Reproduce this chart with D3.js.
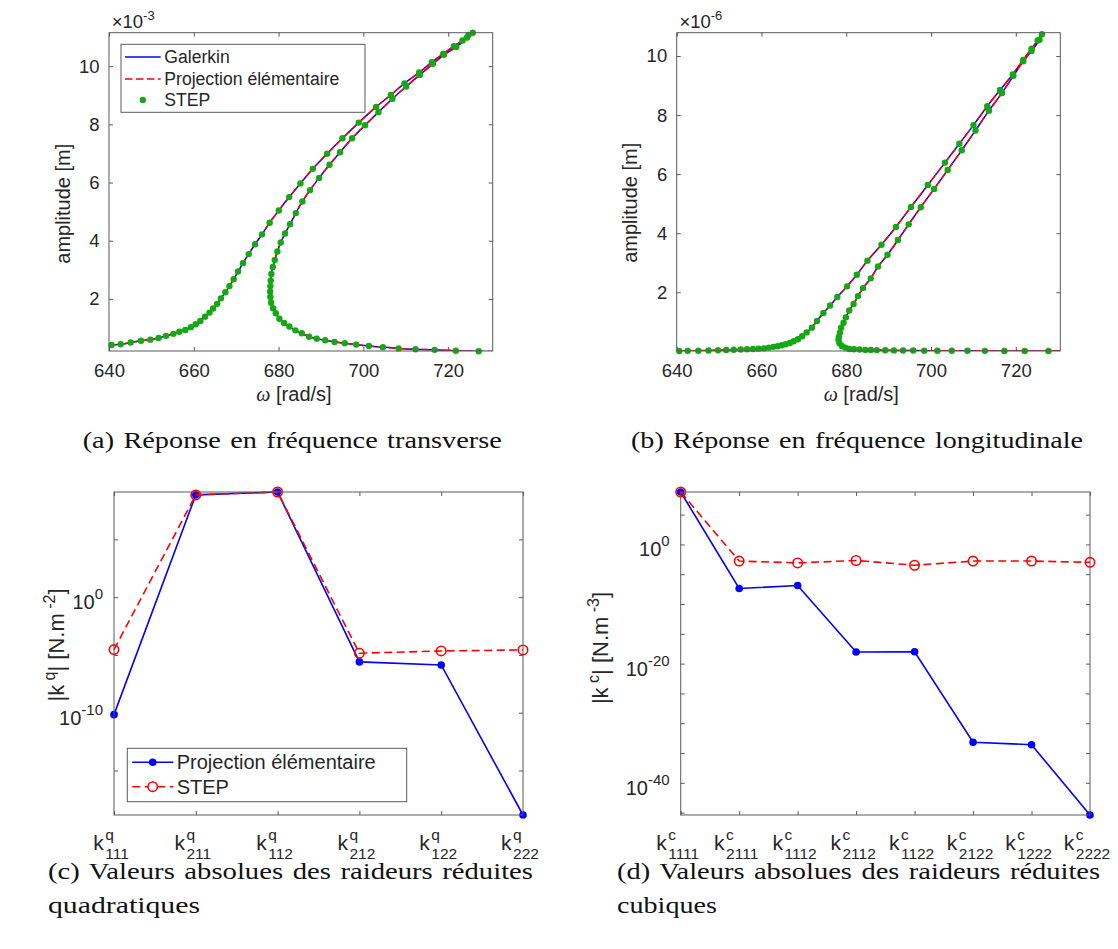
<!DOCTYPE html>
<html><head><meta charset="utf-8">
<script src="https://cdn.jsdelivr.net/npm/d3@7"></script>
<style>
body{margin:0;background:#fff}
svg text{font-family:"Liberation Sans",Arial,Helvetica,sans-serif;fill:#262626}
</style>
</head><body>
<svg id="fig" width="1118" height="949"></svg>
<script>
// ================= DATA =================
const freqDomain = [640, 730.5];
const freqTicks = [640, 660, 680, 700, 720];
const ampTicks = [2, 4, 6, 8, 10];

// (a) transverse response, amplitude in 1e-3 m (STEP points along the branch)
const stepA_omega = [640.6,642.75,645.1,647.55,649.75,651.7,653.45,655.2,656.6,658.0,659.3,660.45,661.55,662.65,663.7,664.55,665.5,666.4,667.45,668.4,669.4,670.45,671.6,672.95,674.45,676.1,677.9,680.05,682.5,685.15,688.07,691.45,695.06,698.92,703.0,706.47,709.69,713.16,716.15,718.82,721.34,723.38,724.8,725.8,
  724.4,721.9,719.0,716.4,713.3,710.1,706.85,703.55,700.4,697.35,694.5,692.0,689.56,687.43,685.62,684.06,682.71,681.53,680.51,679.72,679.1,678.63,678.3,678.15,678.07,678.0,678.07,678.23,678.7,679.34,680.19,681.3,682.55,683.97,685.47,687.2,689.0,691.0,693.2,695.6,698.3,701.3,704.6,708.3,712.3,716.8,721.8,727.2];
const stepA_amp = [0.42,0.44,0.50,0.56,0.60,0.66,0.73,0.80,0.87,0.93,1.03,1.13,1.24,1.39,1.53,1.67,1.83,2.02,2.23,2.44,2.68,2.94,3.23,3.54,3.88,4.22,4.62,5.04,5.50,5.97,6.47,6.99,7.52,8.06,8.60,9.01,9.41,9.78,10.14,10.42,10.69,10.88,11.07,11.15,
  10.98,10.66,10.39,10.08,9.70,9.30,8.88,8.42,7.97,7.52,7.04,6.61,6.16,5.74,5.35,4.95,4.57,4.25,3.94,3.63,3.34,3.10,2.86,2.63,2.44,2.25,2.07,1.87,1.68,1.51,1.32,1.17,1.05,0.92,0.82,0.70,0.635,0.58,0.52,0.48,0.43,0.38,0.34,0.30,0.27,0.25,0.22,0.20];
// Galerkin / Projection curves (same branch, extended to the axis limits)
const galerkinA_omega = [640, ...stepA_omega, 730.5];
const galerkinA_amp = [0.41, ...stepA_amp, 0.19];
const projA_omega = galerkinA_omega;
const projA_amp = galerkinA_amp;

// (b) longitudinal response, amplitude in 1e-6 m
const stepB_omega = [640.6,642.6,645.1,647.5,649.75,651.7,653.45,655.1,656.6,658.0,659.3,660.6,661.7,662.8,663.8,664.8,665.7,666.7,667.6,668.6,669.6,670.65,671.9,673.1,674.6,676.2,677.9,680.2,682.5,685.0,688.31,691.72,695.28,699.25,703.29,706.69,710.02,713.27,716.29,719.28,721.75,723.72,725.15,726.17,
  725.6,723.7,721.75,719.44,716.76,713.67,710.49,707.25,703.93,700.74,697.58,694.73,692.19,689.74,687.5,685.78,683.96,682.77,681.73,680.7,679.92,679.36,678.8,678.5,678.26,678.17,678.4,678.97,679.76,680.7,681.8,683.16,684.5,685.8,687.2,689.2,691.25,693.4,695.8,698.4,701.5,704.9,708.6,712.7,717.3,722.1,727.7];
const stepB_amp = [0.013,0.015,0.02,0.025,0.035,0.045,0.05,0.06,0.07,0.08,0.09,0.10,0.125,0.15,0.17,0.205,0.24,0.28,0.34,0.41,0.51,0.64,0.80,1.03,1.30,1.55,1.84,2.20,2.59,3.07,3.61,4.21,4.89,5.63,6.39,7.03,7.66,8.30,8.85,9.38,9.87,10.25,10.53,10.74,
  10.55,10.17,9.82,9.33,8.75,8.15,7.48,6.81,6.14,5.50,4.88,4.30,3.77,3.27,2.87,2.47,2.14,1.87,1.60,1.38,1.15,0.97,0.80,0.63,0.49,0.39,0.27,0.18,0.125,0.08,0.07,0.06,0.047,0.045,0.04,0.035,0.03,0.028,0.025,0.022,0.02,0.018,0.016,0.015,0.014,0.013,0.012];
const galerkinB_omega = [640, ...stepB_omega, 730.5];
const galerkinB_amp = [0.012, ...stepB_amp, 0.011];
const projB_omega = galerkinB_omega;
const projB_amp = galerkinB_amp;

// (c) quadratic reduced stiffnesses |k^q| [N.m^-2]
const catsQ = [["q","111"],["q","211"],["q","112"],["q","212"],["q","122"],["q","222"]];
const projQ = [6.8e-11, 7.1e8, 1.26e9, 2.5e-6, 1.35e-6, 1.4e-19];
const stepQ = [2.9e-5, 7.1e8, 1.26e9, 1.4e-5, 2.2e-5, 2.7e-5];
const tickQ = [1e5, 1, 1e-5, 1e-10, 1e-15];
const tickLabelQ = [0, -10];

// (d) cubic reduced stiffnesses |k^c| [N.m^-3]
const catsC = [["c","1111"],["c","2111"],["c","1112"],["c","2112"],["c","1122"],["c","2122"],["c","1222"],["c","2222"]];
const projC = [6.2e8, 4.0e-8, 1.26e-7, 8.9e-19, 1e-18, 6.3e-34, 2.5e-34, 4e-46];
const stepC = [6.2e8, 1.6e-3, 7.9e-4, 2e-3, 3.2e-4, 1.6e-3, 1.6e-3, 1e-3];
const tickC = [1e5,1,1e-5,1e-10,1e-15,1e-20,1e-25,1e-30,1e-35,1e-40,1e-45];
const tickLabelC = [0, -20, -40];

// ================= DRAWING =================
const svg = d3.select("#fig");
const AX = "#5a5a5a", BLUE = "#0000ff", RED = "#ff0000", GREEN = "#14a814";
const TL = 4;

function box(P){
  svg.append("rect").attr("x",P.x0).attr("y",P.y0).attr("width",P.x1-P.x0).attr("height",P.y1-P.y0)
    .attr("fill","none").attr("stroke",AX).attr("stroke-width",1);
}
function styleAxis(sel){
  sel.select(".domain").remove();
  sel.selectAll(".tick line").attr("stroke",AX).attr("stroke-width",1);
}

function freqPanel(P, so, sa, go, ga, po, pa, yDomain, expo, id, ylabX, ylabY, xlabX, legend){
  const x = d3.scaleLinear().domain(freqDomain).range([P.x0,P.x1]);
  const y = d3.scaleLinear().domain(yDomain).range([P.y1,P.y0]);
  svg.append("defs").append("clipPath").attr("id",id).append("rect")
    .attr("x",P.x0).attr("y",P.y0).attr("width",P.x1-P.x0).attr("height",P.y1-P.y0);
  const b = svg.append("g").attr("transform",`translate(0,${P.y1})`)
    .call(d3.axisBottom(x).tickValues(freqTicks).tickSizeInner(-TL).tickSizeOuter(0).tickPadding(12.9));
  styleAxis(b); b.selectAll("text").style("font-size","18.5px").style("fill","#262626");
  const t = svg.append("g").attr("transform",`translate(0,${P.y0})`)
    .call(d3.axisTop(x).tickValues(freqTicks).tickSizeInner(-TL).tickSizeOuter(0).tickFormat(""));
  styleAxis(t);
  const l = svg.append("g").attr("transform",`translate(${P.x0},0)`)
    .call(d3.axisLeft(y).tickValues(ampTicks).tickSizeInner(-TL).tickSizeOuter(0).tickPadding(9.5));
  styleAxis(l); l.selectAll("text").style("font-size","18.5px").style("fill","#262626");
  const r = svg.append("g").attr("transform",`translate(${P.x1},0)`)
    .call(d3.axisRight(y).tickValues(ampTicks).tickSizeInner(-TL).tickSizeOuter(0).tickFormat(""));
  styleAxis(r);

  const line = d3.line().curve(d3.curveCatmullRom.alpha(0.5)).x(d=>x(d[0])).y(d=>y(d[1]));
  const gal = go.map((o,i)=>[o,ga[i]]);
  const prj = po.map((o,i)=>[o,pa[i]]);
  const cg = svg.append("g").attr("clip-path",`url(#${id})`);
  cg.append("path").attr("d",line(gal)).attr("fill","none").attr("stroke",BLUE).attr("stroke-width",1.5);
  cg.append("path").attr("d",line(prj)).attr("fill","none").attr("stroke",RED).attr("stroke-width",1.5)
    .attr("stroke-dasharray","7.5,3.5");
  svg.append("g").selectAll("circle").data(so.map((o,i)=>[o,sa[i]])).join("circle")
    .attr("cx",d=>x(d[0])).attr("cy",d=>y(d[1])).attr("r",3.2).attr("fill",GREEN);
  box(P);

  // exponent
  const ex = svg.append("text").attr("x",P.x0+2.7).attr("y",P.y0-4.4);
  ex.append("tspan").style("font-size","18.5px").text("×10");
  ex.append("tspan").attr("dy",-8.3).style("font-size","13px").text(expo);
  // axis labels
  svg.append("text").attr("transform",`translate(${ylabX},${ylabY}) rotate(-90)`)
    .attr("text-anchor","middle").style("font-size","20px").text("amplitude [m]");
  const xl = svg.append("text").attr("x",xlabX).attr("y",401).attr("text-anchor","middle").style("font-size","20px");
  xl.append("tspan").style("font-family","'Liberation Serif',serif").style("font-style","italic").text("ω");
  xl.append("tspan").text(" [rad/s]");

  if(legend){
    const L = {x:121, y:44.3, w:244, h:68};
    svg.append("rect").attr("x",L.x).attr("y",L.y).attr("width",L.w).attr("height",L.h)
      .attr("fill","#fff").attr("stroke",AX).attr("stroke-width",1);
    const rows = [57, 79, 100];
    svg.append("line").attr("x1",125).attr("x2",160.7).attr("y1",rows[0]).attr("y2",rows[0]).attr("stroke",BLUE).attr("stroke-width",1.5);
    svg.append("line").attr("x1",125).attr("x2",160.7).attr("y1",rows[1]).attr("y2",rows[1]).attr("stroke",RED).attr("stroke-width",1.5).attr("stroke-dasharray","7.5,3.5");
    svg.append("circle").attr("cx",142.8).attr("cy",rows[2]).attr("r",3.2).attr("fill",GREEN);
    ["Galerkin","Projection élémentaire","STEP"].forEach((s,i)=>{
      svg.append("text").attr("x",164.3).attr("y",rows[i]).attr("dy","0.35em").style("font-size","17.6px").text(s);
    });
  }
}

function kLabel(cx, baseY, sup, sub){
  const grp = svg.append("g");
  const k = grp.append("text").attr("x",0).attr("y",0).style("font-size","21px").text("k");
  const w = k.node().getComputedTextLength();
  const a = grp.append("text").attr("x",w+1.5).attr("y",-10.5).style("font-size","15.5px").text(sup);
  const s = grp.append("text").attr("x",w+1.5).attr("y",8.6).style("font-size","15.5px").text(sub);
  const tw = w+1.5+Math.max(a.node().getComputedTextLength(), s.node().getComputedTextLength());
  grp.attr("transform",`translate(${cx-tw/2-3},${baseY})`);
}

function stiffPanel(P, cats, proj, step, ticks, labelExps, supChar, expChar, ylabX, ylabY, legend){
  const keys = cats.map(c=>c[0]+c[1]);
  const x = d3.scalePoint().domain(keys).range([P.x0,P.x1]).padding(0);
  const all = proj.concat(step);
  const y = d3.scaleLog().domain(d3.extent(all)).range([P.y1,P.y0]);
  const b = svg.append("g").attr("transform",`translate(0,${P.y1})`)
    .call(d3.axisBottom(x).tickSizeInner(-TL).tickSizeOuter(0).tickFormat(""));
  styleAxis(b);
  const t = svg.append("g").attr("transform",`translate(0,${P.y0})`)
    .call(d3.axisTop(x).tickSizeInner(-TL).tickSizeOuter(0).tickFormat(""));
  styleAxis(t);
  const l = svg.append("g").attr("transform",`translate(${P.x0},0)`)
    .call(d3.axisLeft(y).tickValues(ticks).tickSizeInner(-TL).tickSizeOuter(0).tickFormat(""));
  styleAxis(l);
  const r = svg.append("g").attr("transform",`translate(${P.x1},0)`)
    .call(d3.axisRight(y).tickValues(ticks).tickSizeInner(-TL).tickSizeOuter(0).tickFormat(""));
  styleAxis(r);
  // y tick labels 10^e
  labelExps.forEach(e=>{
    const yy = y(Math.pow(10,e));
    const tx = svg.append("text").attr("x",P.x0-11).attr("y",yy+12).attr("text-anchor","end");
    tx.append("tspan").style("font-size","20px").text("10");
    tx.append("tspan").attr("dy",-10).style("font-size","15px").text(String(e));
  });
  // x tick labels
  cats.forEach((c,i)=>kLabel(x(keys[i]), P.y1+35, c[0], c[1]));

  const line = d3.line().x((d,i)=>x(keys[i])).y(d=>y(d));
  svg.append("path").attr("d",line(proj)).attr("fill","none").attr("stroke",BLUE).attr("stroke-width",1.6);
  svg.append("g").selectAll("circle").data(proj).join("circle")
    .attr("cx",(d,i)=>x(keys[i])).attr("cy",d=>y(d)).attr("r",3.8).attr("fill",BLUE);
  svg.append("path").attr("d",line(step)).attr("fill","none").attr("stroke",RED).attr("stroke-width",1.6)
    .attr("stroke-dasharray","8,4.5");
  svg.append("g").selectAll("circle").data(step).join("circle")
    .attr("cx",(d,i)=>x(keys[i])).attr("cy",d=>y(d)).attr("r",4.7).attr("fill","none")
    .attr("stroke",RED).attr("stroke-width",1.6);
  box(P);

  // y label
  const yl = svg.append("text").attr("transform",`translate(${ylabX},${ylabY}) rotate(-90)`)
    .attr("text-anchor","middle").style("font-size","22px");
  yl.append("tspan").text("|k");
  yl.append("tspan").attr("dy",-9).style("font-size","16px").text(" "+supChar);
  yl.append("tspan").attr("dy",9).text("| [N.m");
  yl.append("tspan").attr("dy",-9).style("font-size","16px").text(" "+expChar);
  yl.append("tspan").attr("dy",9).text("]");

  if(legend){
    svg.append("rect").attr("x",127.3).attr("y",748.3).attr("width",279.4).attr("height",53.4)
      .attr("fill","#fff").attr("stroke",AX).attr("stroke-width",1);
    const r1 = 762.3, r2 = 786.7;
    svg.append("line").attr("x1",132.3).attr("x2",173.3).attr("y1",r1).attr("y2",r1).attr("stroke",BLUE).attr("stroke-width",1.6);
    svg.append("circle").attr("cx",152.7).attr("cy",r1).attr("r",3.8).attr("fill",BLUE);
    svg.append("line").attr("x1",132.3).attr("x2",173.3).attr("y1",r2).attr("y2",r2).attr("stroke",RED).attr("stroke-width",1.6).attr("stroke-dasharray","8,4.5");
    svg.append("circle").attr("cx",152.7).attr("cy",r2).attr("r",4.7).attr("fill","#fff").attr("stroke",RED).attr("stroke-width",1.6);
    svg.append("text").attr("x",176.7).attr("y",r1).attr("dy","0.35em").style("font-size","20px").text("Projection élémentaire");
    svg.append("text").attr("x",176.7).attr("y",r2).attr("dy","0.35em").style("font-size","20px").text("STEP");
  }
}

freqPanel({x0:109,x1:492.7,y0:32.7,y1:351}, stepA_omega, stepA_amp, galerkinA_omega, galerkinA_amp, projA_omega, projA_amp,
  [0.21,11.15], "-3", "clipA", 70, 203.7, 294, true);
freqPanel({x0:676.7,x1:1060.3,y0:32.7,y1:351}, stepB_omega, stepB_amp, galerkinB_omega, galerkinB_amp, projB_omega, projB_amp,
  [0.01,10.79], "-6", "clipB", 637, 202.8, 861.3, false);
stiffPanel({x0:114,x1:523,y0:492,y1:815}, catsQ, projQ, stepQ, tickQ, tickLabelQ, "q", "-2", 64, 645, true);
stiffPanel({x0:680.7,x1:1090,y0:492,y1:815}, catsC, projC, stepC, tickC, tickLabelC, "c", "-3", 608, 648, false);

// captions
const captions = [
  {t:"(a) Réponse en fréquence transverse", x:82.7, y:448, w:419},
  {t:"(b) Réponse en fréquence longitudinale", x:631, y:448, w:452},
  {t:"(c) Valeurs absolues des raideurs réduites", x:48, y:879, w:485},
  {t:"quadratiques", x:48, y:913, w:152},
  {t:"(d) Valeurs absolues des raideurs réduites", x:617, y:879, w:483},
  {t:"cubiques", x:617, y:913, w:100}
];
captions.forEach(c=>{
  svg.append("text").attr("x",c.x).attr("y",c.y).attr("textLength",c.w).attr("lengthAdjust","spacingAndGlyphs")
    .style("font-family","'Liberation Serif','Times New Roman',serif").style("font-size","24px")
    .style("word-spacing","2px").style("fill","#111").text(c.t);
});
</script>
</body></html>
